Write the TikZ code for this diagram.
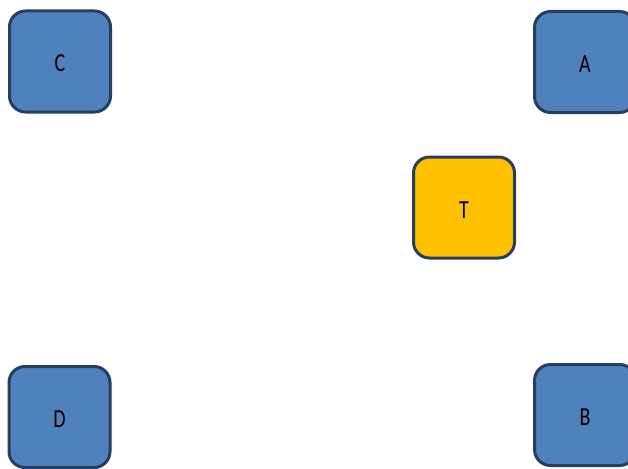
\documentclass[tikz,border=0pt]{standalone}
\usepackage{fontspec}
\usepackage{graphicx}
\setmainfont{Carlito}
\definecolor{boxblue}{RGB}{79,129,189}
\definecolor{boxedge}{RGB}{38,62,96}
\definecolor{boxorange}{RGB}{255,192,0}
\newcommand{\tallL}[1]{\scalebox{1}[1.3]{#1}}
\begin{document}
\begin{tikzpicture}[x=1pt,y=-1pt,
  box/.style={rectangle, rounded corners=16pt, minimum width=101pt, minimum height=101pt,
    draw=boxedge, line width=3pt, fill=boxblue, font=\fontsize{20}{22}\selectfont,
    inner sep=0pt, text height=21pt, text depth=0pt}]
\useasboundingbox (0,0) rectangle (628,468);
\node[box] (C) at (60,61.5) {\tallL{C}};
\node[box] (A) at (585,62) {\tallL{A}};
\node[box, fill=boxorange] (T) at (464,207.5) {\tallL{T}};
\node[box] (D) at (59.5,417) {\tallL{D}};
\node[box] (B) at (585,415) {\tallL{B}};
\end{tikzpicture}
\end{document}
